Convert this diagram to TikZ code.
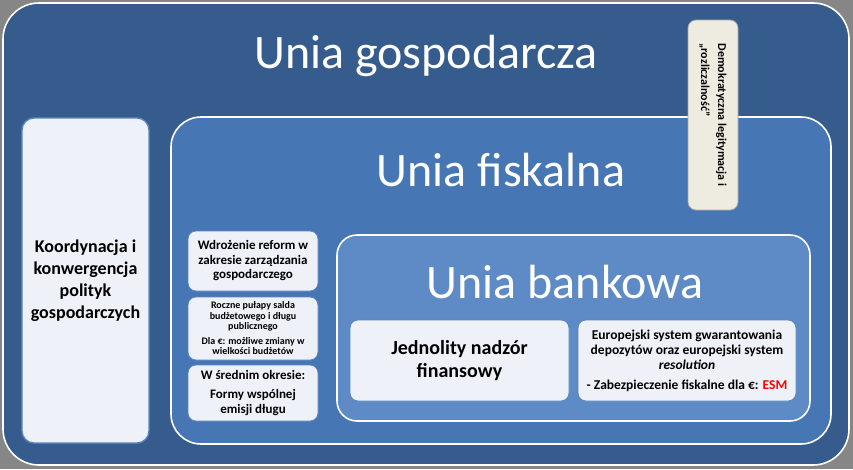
\documentclass[tikz,border=0pt]{standalone}
\usepackage{fontspec}
\setmainfont{Carlito}
\usetikzlibrary{positioning}
\definecolor{econblue}{HTML}{355C8C}
\definecolor{fiscblue}{HTML}{4676B4}
\definecolor{bankblue}{HTML}{5E8BC6}
\definecolor{panelfill}{HTML}{EEF2F8}
\definecolor{panelline}{HTML}{5A86BF}
\definecolor{demofill}{HTML}{EEECE1}
\definecolor{esmred}{HTML}{FF0000}

\begin{document}
\begin{tikzpicture}[x=1pt,y=-1pt,
                    union/.style={draw=white,line width=1.6pt,inner sep=0pt},
                    panel/.style={rectangle,rounded corners=8pt,draw=panelline,line width=0.8pt,
                                  fill=panelfill,inner sep=2pt,align=center,font=\bfseries},
                    title/.style={anchor=base,text=white,inner sep=0pt,
                                  font=\fontsize{48}{52}\selectfont}]
  % background and frame
  \fill[gray!95] (0,0) rectangle (853,469);
  \useasboundingbox (0,0) rectangle (853,469);
  \node[union,fill=econblue,rounded corners=36pt,minimum width=846pt,minimum height=462pt] (econ) at (426,234) {};
  \node[title] (econtitle) at (426,68) {Unia gospodarcza};

  % left column
  \node[panel,rounded corners=12pt,line width=1.4pt,minimum width=127pt,minimum height=325pt,
        font=\bfseries\fontsize{18}{22}\selectfont] (coord) at (85.5,280.5)
        {Koordynacja i\\konwergencja\\polityk\\gospodarczych};

  % fiscal union
  \node[union,fill=fiscblue,rounded corners=30pt,minimum width=660pt,minimum height=327pt] (fisc) at (501,280.5) {};
  \node[title] (fisctitle) at (501,186) {Unia fiskalna};

  \node[panel,rounded corners=8pt,draw=gray!70,fill=demofill,rotate=-90,align=left,
        minimum width=190pt,minimum height=50pt,
        font=\bfseries\fontsize{12}{17}\selectfont] (demo) at (713,115)
        {Demokratyczna legitymacja i\\„rozliczalność”};

  \node[panel,minimum width=130pt,minimum height=60pt,
        font=\bfseries\fontsize{13}{14.5}\selectfont] (reform) at (253,261)
        {Wdrożenie reform w\\zakresie zarządzania\\gospodarczego};
  \node[panel,minimum width=130pt,minimum height=63pt,
        font=\bfseries\fontsize{10}{10.5}\selectfont] (caps) at (253,328.5)
        {Roczne pułapy salda\\budżetowego i długu\\publicznego\\[4pt]Dla €: możliwe zmiany w\\wielkości budżetów};
  \node[panel,minimum width=130pt,minimum height=56pt,
        font=\bfseries\fontsize{13}{15}\selectfont] (bonds) at (253,393)
        {W średnim okresie:\\[4pt]Formy wspólnej\\emisji długu};

  % banking union
  \node[union,fill=bankblue,rounded corners=20pt,minimum width=473pt,minimum height=186pt] (bank) at (573.5,328) {};
  \node[title] (banktitle) at (565,298) {Unia bankowa};

  \node[panel,minimum width=219pt,minimum height=81pt,
        font=\bfseries\fontsize{20}{23}\selectfont] (super) at (459.5,360.5)
        {Jednolity nadzór\\finansowy};
  \node[panel,minimum width=218pt,minimum height=81pt,
        font=\bfseries\fontsize{13.5}{15}\selectfont] (deposit) at (687,360.5)
        {Europejski system gwarantowania\\depozytów oraz europejski system\\\textit{resolution}\\[5pt]- Zabezpieczenie fiskalne dla €: \textcolor{esmred}{ESM}};
\end{tikzpicture}
\end{document}
